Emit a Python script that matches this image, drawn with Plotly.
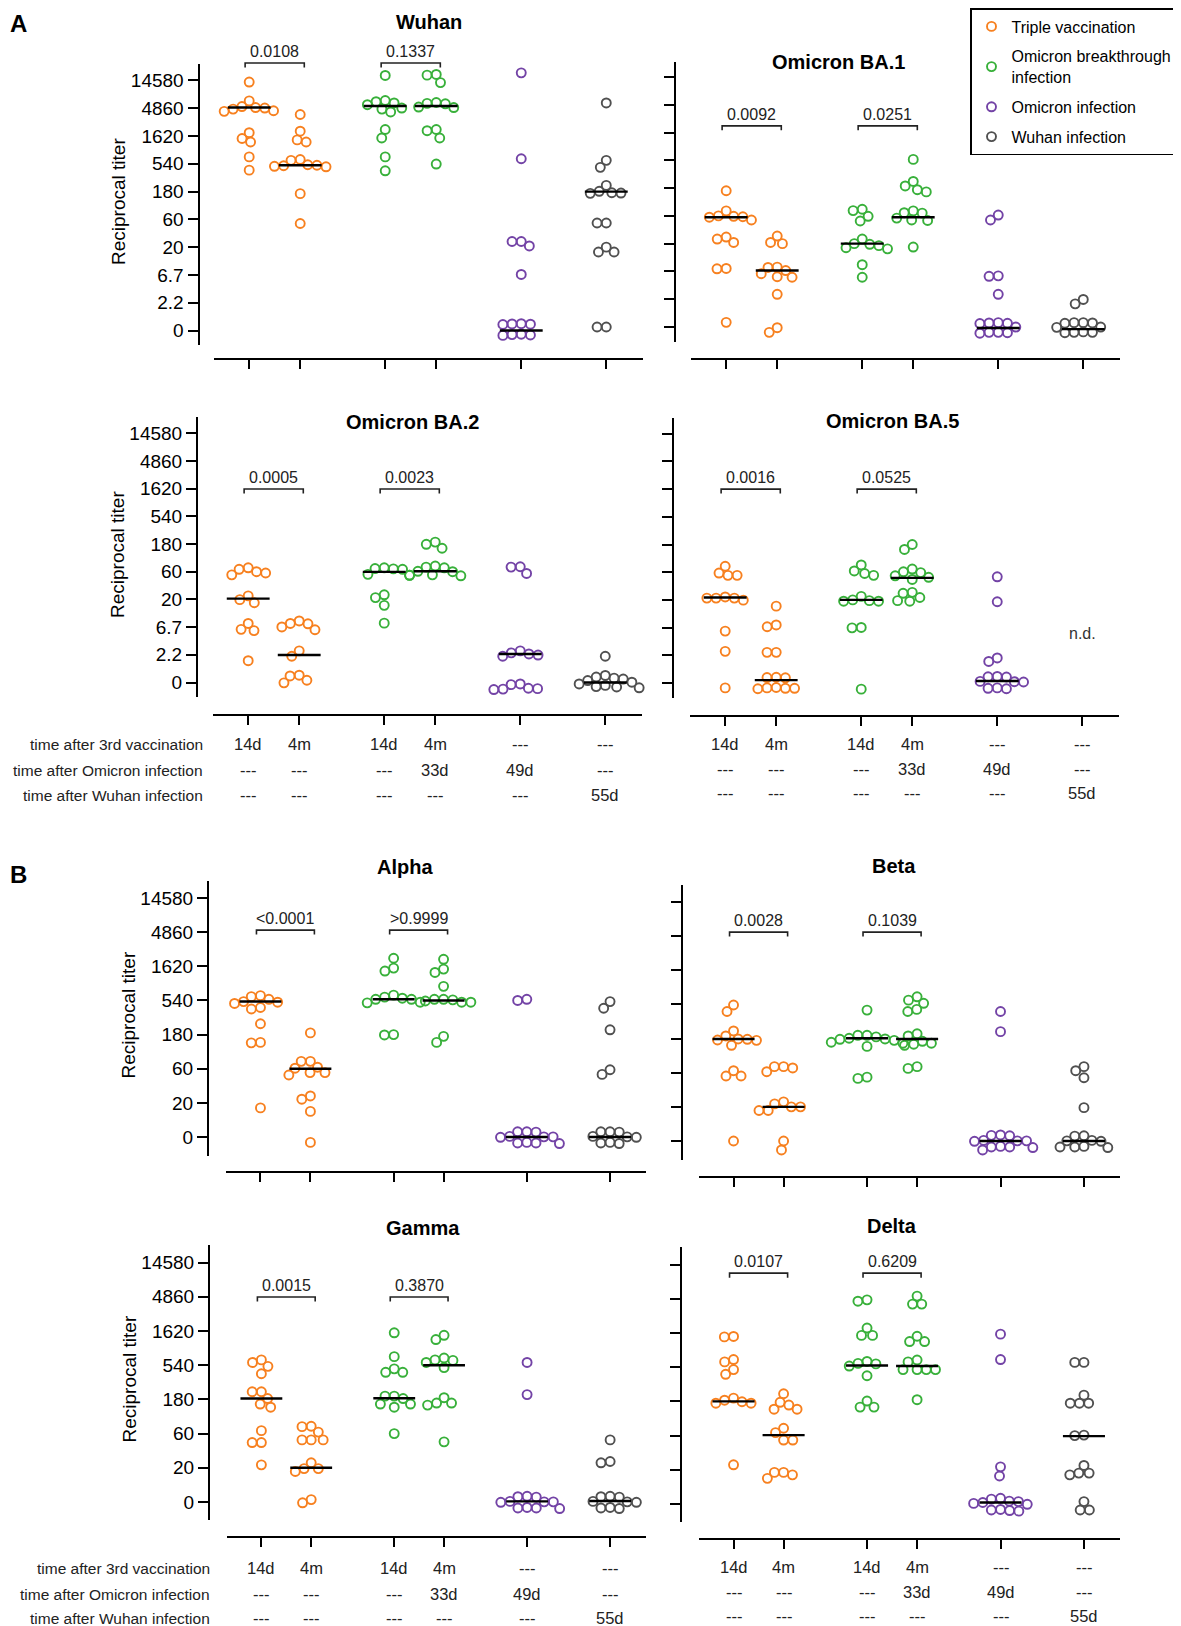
import numpy as np
import plotly.graph_objects as go

# reference frame is 1181 x 1626; the page body adds an 8 px margin, so the figure is
# made 8 px smaller and every pixel position is shifted by that amount
W0, H0 = 1181, 1626
OFF = 8
W, H = W0 - OFF, H0 - OFF
FONT = "Liberation Sans, Arial, sans-serif"

# ---- series / labels ----
SERIES = ["Triple vaccination", "Omicron breakthrough<br>infection",
          "Omicron infection", "Wuhan infection"]
COLORS = ["#f7801f", "#38b03a", "#7343a6", "#505050"]
GROUP_SERIES = [0, 0, 1, 1, 2, 3]          # colour of each of the 6 columns

TIME_VACC = ["14d", "4m", "14d", "4m", "---", "---"]
TIME_OMI = ["---", "---", "---", "33d", "49d", "---"]
TIME_WUHAN = ["---", "---", "---", "---", "---", "55d"]
ROW_LABELS = ["time after 3rd vaccination", "time after Omicron infection",
              "time after Wuhan infection"]

TICKS_A = [20 / 27, 20 / 9, 20 / 3, 20, 60, 180, 540, 1620, 4860, 14580]
TICKTEXT_A = ["0", "2.2", "6.7", "20", "60", "180", "540", "1620", "4860", "14580"]
TICKS_B = [20 / 3, 20, 60, 180, 540, 1620, 4860, 14580]
TICKTEXT_B = ["0", "20", "60", "180", "540", "1620", "4860", "14580"]
LOD_A = 1.28
LOD_B = 11.5

# ---- reciprocal titers, columns: vacc 14d, vacc 4m, BTI 14d, BTI 4m, Omicron, Wuhan ----
WUHAN = [
    [13700, 6500, 5000, 4900, 5200, 4700, 4400, 4300, 1850, 1470, 1280, 710, 420],
    [3800, 1960, 1390, 1280, 620, 640, 510, 490, 520, 480, 500, 166, 51],
    [17800, 6600, 6300, 6000, 5600, 4900, 4700, 4200, 2100, 1500, 710, 410],
    [18000, 18500, 13400, 5800, 5900, 6100, 5100, 5000, 2100, 2000, 1500, 535],
    [19700, 660, 25, 25, 21, 6.8, 0.96, 0.95, 0.97, 0.94, 0.63, 0.62, 0.64, 0.61],
    [6000, 620, 470, 230, 182, 172, 170, 168, 52, 52, 20, 16.5, 16.5, 0.85, 0.85],
]
WUHAN_MED = [5000, 510, 5300, 5300, 20 / 27, 180]
WUHAN_P = ["0.0108", "0.1337"]

BA1 = [
    [162, 73, 59, 58, 57, 60, 51, 26, 24, 21, 7.5, 7.4, 0.89],
    [27, 21, 20, 7.9, 7.8, 6.9, 5.4, 5.3, 6.1, 2.7, 0.72, 0.6],
    [78, 74, 59, 49, 24, 19.5, 18.5, 16.3, 20, 17, 8.7, 5.3],
    [560, 234, 196, 155, 169, 73, 68, 67, 55, 51, 50, 17.5],
    [62, 51, 5.6, 5.5, 2.7, 0.88, 0.86, 0.87, 0.85, 0.74, 0.6, 0.59, 0.6, 0.58],
    [2.2, 1.85, 0.88, 0.87, 0.86, 0.88, 0.74, 0.73, 0.6, 0.59, 0.61, 0.6],
]
BA1_MED = [57, 6.9, 20, 57, 0.71, 0.68]
BA1_P = ["0.0092", "0.0251"]

BA2 = [
    [70, 66, 60, 57, 53, 23, 19.8, 17.5, 7.7, 6.1, 5.8, 1.76],
    [8.5, 7.7, 7.6, 6.7, 6.0, 2.6, 2.1, 0.99, 0.96, 0.81, 0.73],
    [70, 68, 67, 66, 54, 52, 24, 21.5, 15.8, 7.8],
    [194, 178, 152, 75, 72, 70, 61, 60, 53, 52, 51],
    [73, 72, 56, 2.6, 2.4, 2.3, 2.2, 2.1, 0.7, 0.68, 0.58, 0.57, 0.59, 0.56],
    [2.1, 0.98, 0.92, 0.88, 0.85, 0.8, 0.75, 0.7, 0.66, 0.63, 0.62, 0.6],
]
BA2_MED = [20.6, 2.2, 59.5, 61, 2.3, 20 / 27]
BA2_P = ["0.0005", "0.0023"]

BA5 = [
    [76, 58, 53, 53, 22.5, 21.5, 21.5, 21.5, 19.8, 5.8, 2.6, 0.61],
    [15.6, 7.4, 6.9, 2.5, 2.5, 0.93, 0.92, 0.91, 0.6, 0.61, 0.6, 0.59, 0.62],
    [80, 63, 57, 53, 23, 20, 19.4, 19, 19, 6.7, 6.6, 0.58],
    [180, 148, 68, 61, 59, 52, 49, 45, 27, 26, 22, 19.4, 19],
    [50, 18.6, 2.0, 1.74, 0.95, 0.94, 0.96, 0.78, 0.79, 0.77, 0.6, 0.61, 0.59],
    [],
]
BA5_MED = [22, 0.83, 20, 48, 0.8, None]
BA5_P = ["0.0016", "0.0525"]

ALPHA = [
    [610, 630, 560, 520, 510, 490, 430, 410, 255, 140, 138, 17],
    [190, 76, 76, 63, 61, 53, 53, 49, 25, 22.5, 15.2, 5.6],
    [2100, 1530, 1390, 640, 600, 580, 560, 560, 510, 500, 180, 178],
    [2030, 1480, 1330, 850, 560, 560, 550, 530, 510, 510, 170, 140],
    [560, 540, 7.9, 7.8, 7.9, 6.7, 6.6, 6.8, 6.7, 5.5, 5.4, 5.6, 5.5],
    [520, 420, 210, 58, 50, 7.9, 7.8, 7.9, 6.7, 6.6, 6.8, 5.5, 5.4, 5.6],
]
ALPHA_MED = [523, 60, 560, 540, 6.67, 6.67]
ALPHA_P = ["&lt;0.0001", "&gt;0.9999"]

BETA = [
    [530, 430, 230, 196, 178, 172, 176, 170, 145, 64, 54, 54, 6.67],
    [73, 70, 73, 62, 23.5, 22, 20, 20, 17.8, 17.8, 6.67, 5.0],
    [450, 200, 200, 190, 182, 178, 176, 170, 160, 155, 140, 52, 50],
    [690, 620, 560, 460, 430, 210, 196, 165, 155, 150, 145, 73, 69],
    [430, 225, 8.0, 8.1, 7.9, 6.7, 6.6, 6.8, 6.7, 5.5, 5.4, 5.6, 5.5, 5.0],
    [73, 64, 51, 19.5, 7.9, 7.8, 6.7, 6.6, 6.8, 5.6, 5.5, 5.4, 5.5],
]
BETA_MED = [178, 20, 182, 178, 6.67, 6.67]
BETA_P = ["0.0028", "0.1039"]

GAMMA = [
    [640, 590, 520, 410, 230, 230, 185, 155, 140, 66, 45, 45, 22],
    [75, 76, 63, 49, 49, 49, 23.5, 19.5, 19.5, 17.8, 7.2, 6.5],
    [1530, 711, 480, 430, 430, 200, 185, 200, 155, 140, 155, 60],
    [1410, 1230, 640, 680, 630, 590, 500, 190, 160, 160, 150, 46],
    [590, 210, 8.0, 7.9, 7.8, 6.8, 6.7, 6.6, 6.7, 5.6, 5.5, 5.4, 5.5],
    [49, 24.5, 23.5, 8.0, 7.8, 7.9, 6.8, 6.7, 6.6, 5.5, 5.4, 5.6],
]
GAMMA_MED = [185, 20, 187, 540, 6.8, 6.9]
GAMMA_P = ["0.0015", "0.3870"]

DELTA = [
    [1430, 1450, 690, 640, 500, 430, 200, 187, 170, 170, 178, 23.5],
    [230, 175, 160, 140, 140, 76, 66, 52, 52, 18.4, 18.4, 17, 15.2],
    [4700, 4500, 1900, 1500, 1500, 650, 610, 600, 560, 410, 182, 150, 150],
    [5300, 4100, 4100, 1460, 1230, 1230, 680, 640, 500, 500, 500, 500, 190],
    [1560, 690, 22, 16.4, 8.0, 7.8, 7.3, 7.2, 7.0, 6.8, 6.6, 5.5, 5.4, 5.3, 5.6],
    [630, 630, 220, 170, 170, 170, 61, 60, 23, 18, 18, 17, 7.2, 5.5, 5.5],
]
DELTA_MED = [180, 61, 570, 560, 7.0, 59]
DELTA_P = ["0.0107", "0.6209"]

# height of the p-value brackets (titer units)
BRACKETS = [29100, 2110, 1590, 1620, 5190, 5540, 4830, 11080]

# ---- layout of the eight panels (pixels of the reference) ----
GROUP_X = [0, 1, 8 / 3, 11 / 3, 16 / 3, 7]
XR = [-0.69, 7.72]
PANELS = [
    dict(name="Wuhan", vals=WUHAN, med=WUHAN_MED, p=WUHAN_P, sc="A", yax=198.5, x0=214, x1=643,
         ytop=64, ybot=345, xline=359, k0=330.5, sp=27.78, title=(429, 22), left=True, rows=None),
    dict(name="Omicron BA.1", vals=BA1, med=BA1_MED, p=BA1_P, sc="A", yax=675, x0=691, x1=1120,
         ytop=62, ybot=342, xline=359, k0=327, sp=27.78, title=(838, 62), left=False, rows=None),
    dict(name="Omicron BA.2", vals=BA2, med=BA2_MED, p=BA2_P, sc="A", yax=197, x0=213, x1=642,
         ytop=417, ybot=697, xline=715, k0=682.5, sp=27.7, title=(412, 422), left=True,
         rows=(205, [744, 770, 795])),
    dict(name="Omicron BA.5", vals=BA5, med=BA5_MED, p=BA5_P, sc="A", yax=673, x0=690, x1=1119,
         ytop=418, ybot=698, xline=716, k0=683, sp=27.7, title=(892, 421), left=False,
         rows=(None, [744, 769, 793])),
    dict(name="Alpha", vals=ALPHA, med=ALPHA_MED, p=ALPHA_P, sc="B", yax=208, x0=226, x1=646,
         ytop=881, ybot=1156, xline=1172, k0=1137, sp=34.14, title=(405, 867), left=True, rows=None),
    dict(name="Beta", vals=BETA, med=BETA_MED, p=BETA_P, sc="B", yax=682, x0=699, x1=1120,
         ytop=885, ybot=1160, xline=1177, k0=1141, sp=34.14, title=(894, 866), left=False, rows=None),
    dict(name="Gamma", vals=GAMMA, med=GAMMA_MED, p=GAMMA_P, sc="B", yax=209, x0=227, x1=646,
         ytop=1245, ybot=1520, xline=1537, k0=1502, sp=34.2, title=(423, 1228), left=True,
         rows=(212, [1568, 1594, 1618])),
    dict(name="Delta", vals=DELTA, med=DELTA_MED, p=DELTA_P, sc="B", yax=681, x0=699, x1=1120,
         ytop=1247, ybot=1522, xline=1539, k0=1504, sp=34.2, title=(892, 1226), left=False,
         rows=(None, [1567, 1592, 1616])),
]


def px_x(v):
    return (v - OFF) / W


def px_y(v):
    return 1 - (v - OFF) / H


def titer_to_paper(p, t):
    base = TICKS_A[0] if p["sc"] == "A" else TICKS_B[0]
    k = np.log(t / base) / np.log(3)
    return px_y(p["k0"] - k * p["sp"])


def swarm(vals, sp, unit, d=9.2):
    """horizontal offsets (axis units) so that circles of diameter d px do not overlap"""
    if len(vals) == 0:
        return np.array([])
    ys = np.log(np.asarray(vals, float)) / np.log(3) * sp
    xs = np.zeros(len(ys))
    placed = []
    for i in np.argsort(-ys, kind="stable"):
        y = ys[i]
        cands = [0.0]
        for px, py in placed:
            dy = abs(py - y)
            if dy < d:
                dx = np.sqrt(d * d - dy * dy)
                cands += [px - dx, px + dx]
        cands.sort(key=lambda c: (abs(c), c))
        for c in cands:
            if all((c - px) ** 2 + (y - py) ** 2 >= d * d - 1e-6 for px, py in placed):
                xs[i] = c
                break
        placed.append((xs[i], y))
    return xs / unit


fig = go.Figure()
annotations = []
shapes = []
L3 = np.log10(3)

for i, p in enumerate(PANELS, start=1):
    sfx = "" if i == 1 else str(i)
    xr, yr = "x" + sfx, "y" + sfx
    base = TICKS_A[0] if p["sc"] == "A" else TICKS_B[0]
    lo = np.log10(base) + (p["k0"] - p["ybot"]) / p["sp"] * L3
    hi = np.log10(base) + (p["k0"] - p["ytop"]) / p["sp"] * L3
    unit = (p["x1"] - p["x0"]) / (XR[1] - XR[0])

    fig.layout["xaxis" + sfx] = dict(
        domain=[px_x(p["x0"]), px_x(p["x1"])], range=XR, anchor="free", position=px_y(p["xline"]),
        showline=True, linecolor="black", linewidth=2, ticks="outside", ticklen=9, tickwidth=2,
        tickcolor="black", tickvals=GROUP_X, showticklabels=False, showgrid=False, zeroline=False)
    fig.layout["yaxis" + sfx] = dict(
        domain=[px_y(p["ybot"]), px_y(p["ytop"])], type="log", range=[lo, hi], anchor="free",
        position=px_x(p["yax"]), showline=True, linecolor="black", linewidth=2, ticks="outside",
        ticklen=10, tickwidth=2, tickcolor="black",
        tickvals=TICKS_A if p["sc"] == "A" else TICKS_B,
        ticktext=TICKTEXT_A if p["sc"] == "A" else TICKTEXT_B,
        showticklabels=p["left"], tickfont=dict(family=FONT, size=19, color="black"),
        showgrid=False, zeroline=False)

    # dashed detection limit
    lod = LOD_A if p["sc"] == "A" else LOD_B
    shapes.append(dict(type="line", xref="paper", yref=yr, x0=px_x(p["yax"]), x1=px_x(p["x1"]),
                       y0=np.log10(lod), y1=np.log10(lod),
                       line=dict(color="black", width=1.8, dash="dash")))

    # points, one trace per colour
    for s in range(4):
        xs, ys = [], []
        for g, vals in enumerate(p["vals"]):
            if GROUP_SERIES[g] != s or len(vals) == 0:
                continue
            xs += list(GROUP_X[g] + swarm(vals, p["sp"], unit))
            ys += list(vals)
        fig.add_trace(go.Scatter(
            x=xs, y=ys, xaxis=xr, yaxis=yr, mode="markers", name=SERIES[s],
            legendgroup=SERIES[s], showlegend=(i == 1), cliponaxis=False,
            marker=dict(symbol="circle-open", size=9, color=COLORS[s], line=dict(width=1.9))))

    # medians
    mx, my = [], []
    for g, m in enumerate(p["med"]):
        if m is None:
            continue
        mx += [GROUP_X[g] - 0.42, GROUP_X[g] + 0.42, None]
        my += [m, m, None]
    fig.add_trace(go.Scatter(x=mx, y=my, xaxis=xr, yaxis=yr, mode="lines", showlegend=False,
                             cliponaxis=False, line=dict(color="black", width=2.4),
                             hoverinfo="skip"))

    # brackets with p values (paper y so they may sit above the axis)
    yb = titer_to_paper(p, BRACKETS[i - 1])
    ydrop = 4.5 / H
    for k, (a, b) in enumerate([(0, 1), (2, 3)]):
        xa, xb = GROUP_X[a] - 0.08, GROUP_X[b] + 0.08
        shapes.append(dict(type="path", xref=xr, yref="paper",
                           path=f"M {xa},{yb - ydrop} L {xa},{yb} L {xb},{yb} L {xb},{yb - ydrop}",
                           line=dict(color="#222", width=1.6)))
        annotations.append(dict(xref=xr, yref="paper", x=(GROUP_X[a] + GROUP_X[b]) / 2,
                                y=yb, text=p["p"][k], showarrow=False,
                                yanchor="bottom", yshift=1,
                                font=dict(family=FONT, size=16, color="#222")))

    # panel title
    annotations.append(dict(xref="paper", yref="paper", x=px_x(p["title"][0]),
                            y=px_y(p["title"][1]), text="<b>%s</b>" % p["name"],
                            showarrow=False, xanchor="center", yanchor="middle",
                            font=dict(family=FONT, size=20, color="black")))
    if p["left"]:
        annotations.append(dict(xref="paper", yref="paper", x=px_x(p["yax"] - 80),
                                y=px_y((p["ytop"] + p["ybot"]) / 2 - 3), text="Reciprocal titer",
                                textangle=-90, showarrow=False, xanchor="center",
                                yanchor="middle", font=dict(family=FONT, size=19, color="black")))

    # time table under the bottom panels
    if p["rows"] is not None:
        rx, rys = p["rows"]
        if rx is not None:
            for lab, ry in zip(ROW_LABELS, rys):
                annotations.append(dict(xref="paper", yref="paper", x=px_x(rx), y=px_y(ry),
                                        text=lab, showarrow=False, xanchor="right",
                                        yanchor="middle",
                                        font=dict(family=FONT, size=15.5, color="#222")))
        for row, ry in zip([TIME_VACC, TIME_OMI, TIME_WUHAN], rys):
            for g, t in enumerate(row):
                annotations.append(dict(xref=xr, yref="paper", x=GROUP_X[g], y=px_y(ry),
                                        text=t, showarrow=False, xanchor="center",
                                        yanchor="middle",
                                        font=dict(family=FONT, size=16.5, color="#222")))

# n.d. for the missing Wuhan-infection group against BA.5
annotations.append(dict(xref="x4", yref="y4", x=GROUP_X[5], y=np.log10(5.35), text="n.d.",
                        showarrow=False, font=dict(family=FONT, size=16, color="#333")))

# panel letters
annotations.append(dict(xref="paper", yref="paper", x=0, y=px_y(23), text="<b>A</b>",
                        showarrow=False, xanchor="left", yanchor="middle",
                        font=dict(family=FONT, size=24, color="black")))
annotations.append(dict(xref="paper", yref="paper", x=0, y=px_y(875), text="<b>B</b>",
                        showarrow=False, xanchor="left", yanchor="middle",
                        font=dict(family=FONT, size=24, color="black")))

fig.update_layout(
    width=W, height=H, margin=dict(l=0, r=0, t=0, b=0),
    paper_bgcolor="white", plot_bgcolor="rgba(0,0,0,0)",
    annotations=annotations, shapes=shapes,
    legend=dict(x=px_x(1178), y=1.0, xanchor="right", yanchor="top",
                bordercolor="black", borderwidth=1.5, bgcolor="white",
                font=dict(family=FONT, size=16, color="black"), tracegroupgap=6,
                itemwidth=30),
)

fig.write_html("out.html")
